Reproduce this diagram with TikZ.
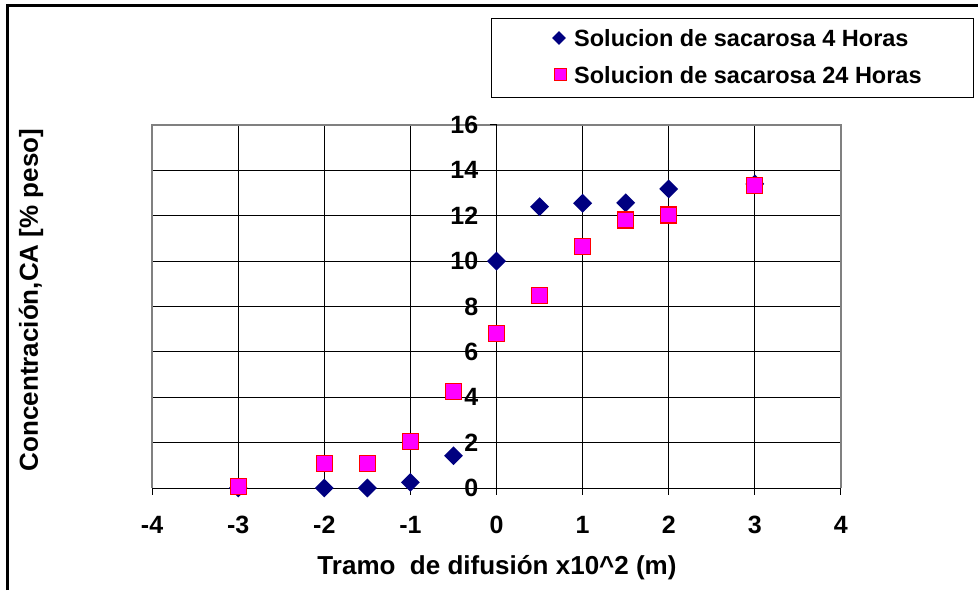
\documentclass[tikz,border=0pt]{standalone}
\usepackage{fontspec}
\setmainfont{Liberation Sans}
\usetikzlibrary{shapes.geometric}
\definecolor{navyblue}{RGB}{0,0,128}
\definecolor{chartgray}{RGB}{128,128,128}
\definecolor{pinkfill}{RGB}{255,0,255}
\tikzset{
  lbl/.style={font=\bfseries\fontsize{25}{29}\selectfont, inner sep=0pt},
  titlelbl/.style={font=\bfseries\fontsize{26}{30}\selectfont, inner sep=0pt},
  leglbl/.style={font=\bfseries\fontsize{23.5}{28}\selectfont, inner sep=0pt},
  dmark/.style={diamond, fill=navyblue, minimum size=19pt, inner sep=0pt},
  smark/.style={rectangle, fill=pinkfill, draw=red, line width=1.2pt, minimum size=16pt, inner sep=0pt},
  gridline/.style={black, line width=0.8pt},
}

\begin{document}
\begin{tikzpicture}[x=1pt,y=1pt]
  \useasboundingbox (0,0) rectangle (978,590);
  % outer chart frame
  \draw[line width=3pt] (7,0) -- (7,584.5) -- (978,584.5);

  % legend
  \node[draw, line width=0.8pt, minimum width=482pt, minimum height=79pt, anchor=north west, inner sep=0pt] (legend) at (491,572) {};
  \node[dmark, minimum size=14pt] (legdia) at (559,552) {};
  \node[smark, minimum size=12pt, line width=1pt] (legsq) at (560,515) {};
  \node[leglbl, anchor=west] (leg4h) at (574,552) {Solucion de sacarosa 4 Horas};
  \node[leglbl, anchor=west] (leg24h) at (574,515) {Solucion de sacarosa 24 Horas};

  % axis titles
  \node[titlelbl, rotate=90] (ytitle) at (31,290) {Concentración,CA [\% peso]};
  \node[titlelbl] (xtitle) at (497,22) {Tramo\ \ de difusión x10\^{}2 (m)};

  \begin{scope}[shift={(496.5,102)}, x=86.1pt, y=22.69pt]
    \foreach \x in {-3,...,3}
      \draw[gridline] (\x,0) -- (\x,16);
    \foreach \y in {2,4,...,14}
      \draw[gridline] (-4,\y) -- (4,\y);
    \draw[chartgray, line width=1.3pt] (-4,0) -- (-4,16) -- (4,16) -- (4,0);
    \draw[line width=1pt] (-4,0) -- (4,0);
    \draw[line width=1pt] (0,0) -- (0,16);
    % ticks and tick labels
    \foreach \x in {-4,...,4} {
      \draw[line width=1pt] (\x,0) -- ++(0,-7pt);
      \node[lbl] (xt\x) at ([yshift=-37pt]\x,0) {\x};
    }
    \foreach \y in {0,2,...,16} {
      \draw[line width=1pt] (0,\y) -- ++(-7pt,0);
      \node[lbl, anchor=east] (yt\y) at ([xshift=-18pt]0,\y) {\y};
    }
    % 4 Horas
    \foreach \px/\py [count=\i] in {-3/0,-2/0,-1.5/0,-1/0.25,-0.5/1.42,0/10,0.5/12.4,1/12.55,1.5/12.57,2/13.18,3/13.4}
      \node[dmark] (h4-\i) at (\px,\py) {};
    % 24 Horas
    \foreach \px/\py [count=\i] in {-3/0.06,-2/1.09,-1.5/1.09,-1/2.04,-0.5/4.27,0/6.82,0.5/8.48,1/10.64,1.5/11.81,2/12.03,3/13.32}
      \node[smark] (h24-\i) at (\px,\py) {};
  \end{scope}
\end{tikzpicture}
\end{document}
